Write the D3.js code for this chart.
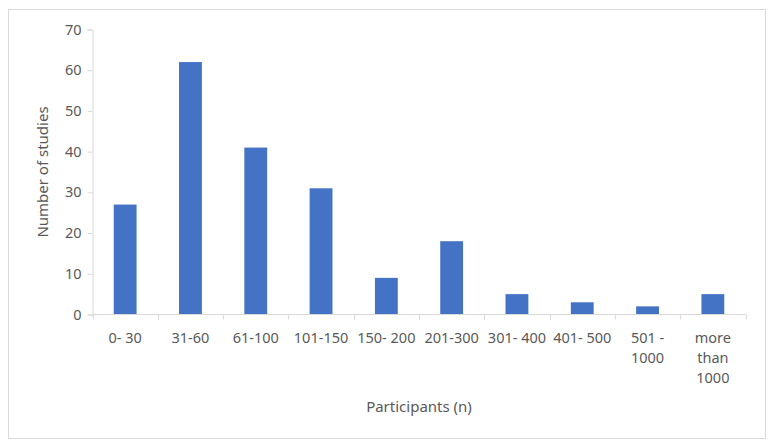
<!DOCTYPE html>
<html lang="en">
<head>
<meta charset="UTF-8">
<title>Participants per study</title>
<style>
  body { margin: 0; background: #fff; }
  text { font-family: "Noto Sans", "Open Sans", sans-serif; fill: #595959; }
</style>
</head>
<body>
<div id="chart"></div>
<script src="https://cdn.jsdelivr.net/npm/d3@7"></script>
<script>
// data
var categories = ["0- 30", "31-60", "61-100", "101-150", "150- 200", "201-300", "301- 400", "401- 500", "501 - 1000", "more than 1000"];
var studies = [27, 62, 41, 31, 9, 18, 5, 3, 2, 5];
var yTicks = [0, 10, 20, 30, 40, 50, 60, 70];

var W = 773, H = 448;
var plot = {left: 92.5, right: 745.5, top: 29.5, bottom: 314.5};

var svg = d3.select("#chart").append("svg")
  .attr("width", W)
  .attr("height", H);

// chart border
svg.append("rect")
  .attr("x", 8.5).attr("y", 9.5)
  .attr("width", 757).attr("height", 429)
  .attr("fill", "#fff")
  .attr("stroke", "#d9d9d9");

var x = d3.scaleBand()
  .domain(categories)
  .range([plot.left, plot.right])
  .paddingInner(0.65)
  .paddingOuter(0.325);

var y = d3.scaleLinear()
  .domain([0, 70])
  .range([plot.bottom, plot.top]);

// y axis
var yAxis = svg.append("g")
  .attr("transform", "translate(" + plot.left + ",0)")
  .call(d3.axisLeft(y).tickValues(yTicks).tickSize(5).tickPadding(6));
yAxis.select(".domain").attr("stroke", "#d9d9d9");
yAxis.selectAll(".tick line").attr("stroke", "#d9d9d9");
yAxis.selectAll(".tick text")
  .attr("fill", "#595959")
  .style("font-size", "14.5px")
  .style("font-family", "'Noto Sans', sans-serif");

// bars
svg.append("g")
  .selectAll("rect")
  .data(studies)
  .enter()
  .append("rect")
    .attr("x", function(d, i) { return x(categories[i]); })
    .attr("y", function(d) { return y(d); })
    .attr("width", x.bandwidth())
    .attr("height", function(d) { return y(0) - y(d); })
    .attr("fill", "#4472c4");

// x axis line and boundary ticks
var step = x.step();
svg.append("line")
  .attr("x1", plot.left).attr("x2", plot.right)
  .attr("y1", plot.bottom).attr("y2", plot.bottom)
  .attr("stroke", "#d9d9d9");
svg.append("g")
  .selectAll("line")
  .data(d3.range(categories.length + 1))
  .enter()
  .append("line")
    .attr("x1", function(i) { return Math.round(plot.left + i * step) + 0.5; })
    .attr("x2", function(i) { return Math.round(plot.left + i * step) + 0.5; })
    .attr("y1", plot.bottom)
    .attr("y2", plot.bottom + 5)
    .attr("stroke", "#d9d9d9");

// category labels, wrapped to the band width
var labels = svg.append("g")
  .selectAll("text")
  .data(categories)
  .enter()
  .append("text")
    .attr("text-anchor", "middle")
    .style("font-size", "14.5px");

labels.each(function(d) {
  var t = d3.select(this);
  var cx = x(d) + x.bandwidth() / 2;
  var words = d.split(" ");
  var lines = [];
  var line = [];
  var probe = t.append("tspan");
  words.forEach(function(w) {
    var trial = line.concat([w]).join(" ");
    probe.text(trial);
    if (line.length && probe.node().getComputedTextLength() > step - 2) {
      lines.push(line.join(" "));
      line = [w];
    } else {
      line.push(w);
    }
  });
  lines.push(line.join(" "));
  probe.remove();
  lines.forEach(function(l, k) {
    t.append("tspan")
      .attr("x", cx)
      .attr("y", 343 + k * 20)
      .text(l);
  });
});

// axis titles
svg.append("text")
  .attr("text-anchor", "middle")
  .attr("x", (plot.left + plot.right) / 2)
  .attr("y", 412)
  .style("font-size", "15px")
  .text("Participants (n)");

svg.append("text")
  .attr("text-anchor", "middle")
  .attr("transform", "translate(48," + 172 + ") rotate(-90)")
  .style("font-size", "15px")
  .text("Number of studies");
</script>
</body>
</html>
